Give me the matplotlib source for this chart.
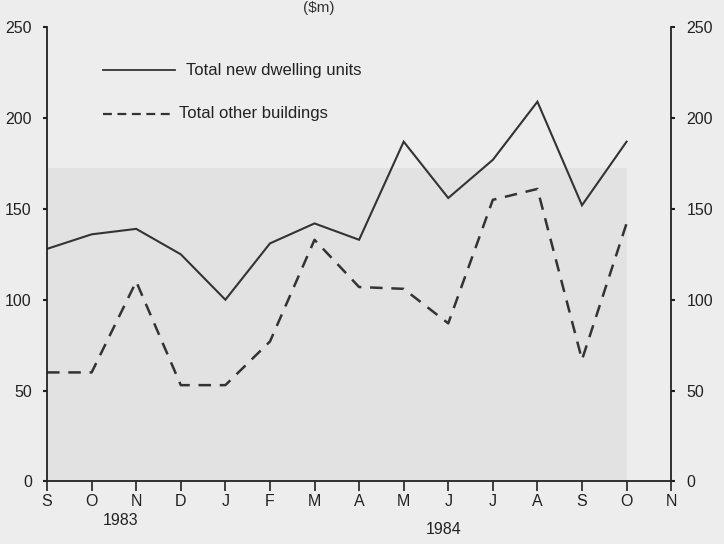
import matplotlib
matplotlib.use('Agg')
import matplotlib.pyplot as plt
from matplotlib.patches import Rectangle

# Month labels along the x axis (Sep 1983 - Nov 1984)
months = ['S', 'O', 'N', 'D', 'J', 'F', 'M', 'A', 'M', 'J', 'J', 'A', 'S', 'O', 'N']

# Values in $m (no value for the final November)
dwellings = [128, 136, 139, 125, 100, 131, 142, 133, 187, 156, 177, 209, 152, 187]
other_buildings = [60, 60, 110, 53, 53, 77, 133, 107, 106, 87, 155, 161, 67, 142]

y_ticks = [0, 50, 100, 150, 200, 250]

plt.rcParams['font.family'] = ['Liberation Sans', 'DejaVu Sans']

fig = plt.figure(figsize=(7.24, 5.44), dpi=100, facecolor='#ededed')
ax = fig.add_axes([0.065, 0.115, 0.862, 0.835])
ax.set_facecolor('#ededed')

# slightly darker paper patch behind the lines, like the scan
ax.add_patch(Rectangle((0, 0), 0.93, 0.69, transform=ax.transAxes,
                       color='#e2e2e2', zorder=0, lw=0))

x = list(range(len(dwellings)))
ax.plot(x, dwellings, color='#333333', lw=1.5, solid_joinstyle='miter')
ax.plot(x, other_buildings, color='#333333', lw=1.8, dashes=(5, 3.5))

ax.set_xlim(0, len(months) - 1)
ax.set_ylim(0, 250)

# spines: left, right and bottom only
ax.spines['top'].set_visible(False)
for s in ['left', 'right', 'bottom']:
    ax.spines[s].set_color('#222222')
    ax.spines[s].set_linewidth(1.3)

ax.set_xticks(range(len(months)))
ax.set_xticklabels(months)
ax.tick_params(axis='x', direction='out', length=7, width=1.2, color='#222222',
               labelsize=11.5, labelcolor='#222222', pad=2)

ax.set_yticks(y_ticks)
ax.tick_params(axis='y', direction='out', length=3, width=1.5, color='#222222',
               labelsize=11.5, labelcolor='#222222', pad=8,
               left=True, right=True, labelleft=True, labelright=True)

# year labels under the month ticks
ax.text(1.65, -0.07, '1983', transform=ax.get_xaxis_transform(),
        ha='center', va='top', fontsize=11.5, color='#222222')
ax.text(8.9, -0.09, '1984', transform=ax.get_xaxis_transform(),
        ha='center', va='top', fontsize=11.5, color='#222222')

# legend drawn by hand, as in the original
ax.plot([0.09, 0.205], [0.905, 0.905], transform=ax.transAxes,
        color='#333333', lw=1.3, clip_on=False)
ax.text(0.222, 0.905, 'Total new dwelling units', transform=ax.transAxes,
        ha='left', va='center', fontsize=12, color='#222222')
ax.plot([0.09, 0.205], [0.81, 0.81], transform=ax.transAxes,
        color='#333333', lw=1.6, dashes=(4, 2.5), clip_on=False)
ax.text(0.212, 0.81, 'Total other buildings', transform=ax.transAxes,
        ha='left', va='center', fontsize=12, color='#222222')

fig.text(0.44, 0.998, '($m)', ha='center', va='top', fontsize=11,
         color='#333333')

fig.savefig('out.png', dpi=100, facecolor=fig.get_facecolor())
